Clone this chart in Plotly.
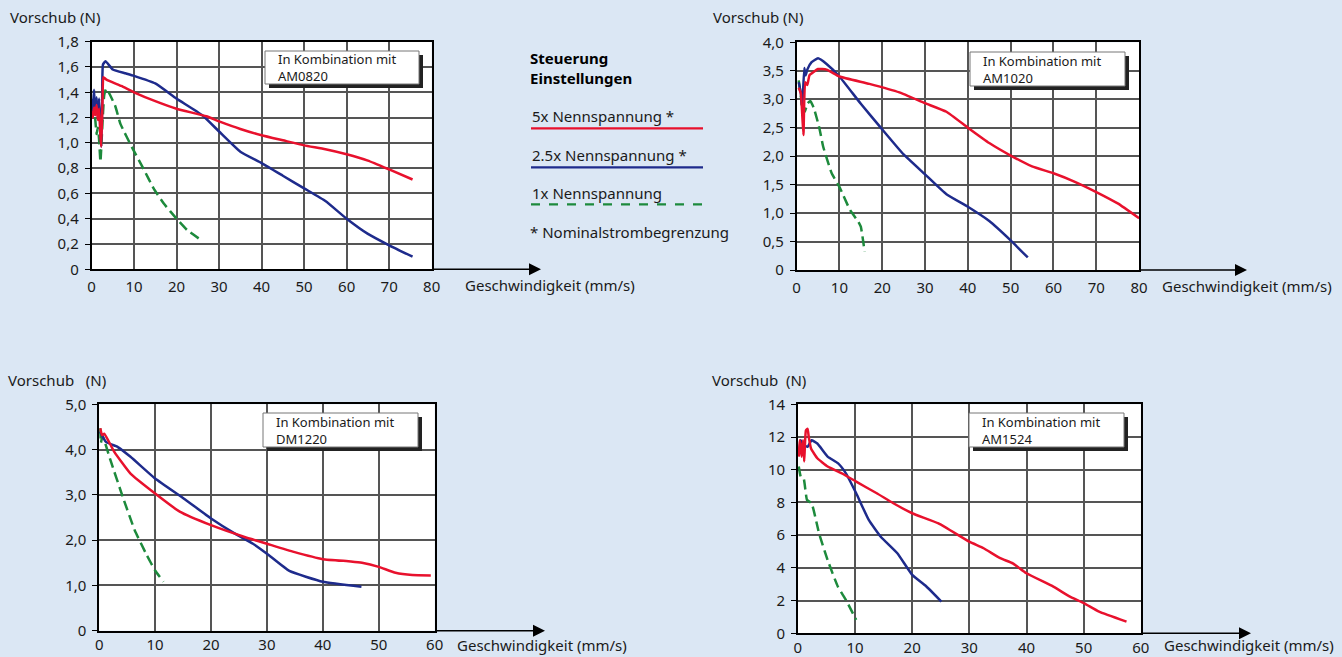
import plotly.graph_objects as go

W, H = 1342, 657

# ---- data ----
# AM0820
am0820_red_x = [0, 0.3, 0.6, 0.9, 1.2, 1.5, 1.8, 2.1, 2.3, 2.6, 2.8, 3.5, 7, 10, 15, 20, 27, 30, 35, 40, 45, 50, 55, 60, 65, 70, 75.5]
am0820_red_y = [1.25, 1.20, 1.28, 1.22, 1.30, 1.18, 1.27, 1.05, 0.97, 1.35, 1.52, 1.50, 1.45, 1.40, 1.33, 1.27, 1.21, 1.17, 1.11, 1.06, 1.02, 0.98, 0.95, 0.91, 0.86, 0.79, 0.71]
am0820_blue_x = [0, 0.3, 0.6, 0.9, 1.2, 1.5, 1.8, 2.1, 2.3, 2.5, 2.7, 3.3, 5, 8, 10, 15, 20, 26, 30, 35, 40, 45, 50, 55, 60, 65, 70, 75.5]
am0820_blue_y = [1.35, 1.25, 1.42, 1.22, 1.36, 1.20, 1.35, 1.10, 0.97, 1.30, 1.62, 1.645, 1.58, 1.55, 1.53, 1.47, 1.35, 1.22, 1.09, 0.93, 0.84, 0.74, 0.64, 0.54, 0.40, 0.28, 0.19, 0.10]
am0820_green_x = [0.6, 0.9, 1.2, 1.5, 1.8, 2.1, 2.5, 3.0, 3.5, 5.6, 6.8, 9.9, 12.3, 14.6, 17, 20, 22.5, 25.4]
am0820_green_y = [1.32, 1.18, 1.07, 1.12, 1.02, 0.85, 1.10, 1.38, 1.43, 1.29, 1.15, 0.94, 0.79, 0.64, 0.52, 0.40, 0.31, 0.24]

# AM1020
am1020_red_x = [0.5, 1.0, 1.3, 1.6, 2.0, 2.5, 3, 4, 5, 7, 10, 17, 24, 30, 35, 40, 45, 50, 55, 60, 65, 70, 75, 80]
am1020_red_y = [3.2, 3.1, 2.75, 2.37, 3.3, 3.25, 3.42, 3.48, 3.53, 3.52, 3.40, 3.27, 3.12, 2.93, 2.78, 2.50, 2.23, 2.01, 1.82, 1.70, 1.55, 1.37, 1.17, 0.91]
am1020_blue_x = [0.5, 1.0, 1.3, 1.8, 2.1, 2.5, 3.5, 5, 7, 10, 15, 20, 25, 30, 35, 40, 45, 50, 54]
am1020_blue_y = [3.30, 3.1, 2.85, 3.55, 3.42, 3.52, 3.65, 3.72, 3.62, 3.40, 2.92, 2.47, 2.03, 1.68, 1.33, 1.11, 0.86, 0.52, 0.22]
am1020_green_x = [0.5, 1.0, 1.5, 2.0, 2.6, 3.2, 4, 5.3, 6.2, 8.2, 10, 12.5, 14.4, 15, 15.9]
am1020_green_y = [3.33, 3.05, 2.75, 2.80, 2.93, 2.97, 2.85, 2.5, 2.17, 1.70, 1.46, 1.05, 0.85, 0.76, 0.32]

# DM1220
dm1220_red_x = [0.2, 0.5, 0.9, 2.7, 5.6, 10, 14.4, 20, 26, 30, 34.8, 40, 45, 47, 50, 53, 56, 59.3]
dm1220_red_y = [4.47, 4.32, 4.35, 3.95, 3.47, 3.03, 2.63, 2.33, 2.07, 1.92, 1.74, 1.58, 1.53, 1.50, 1.41, 1.28, 1.23, 1.22]
dm1220_blue_x = [0.15, 1.2, 2.9, 3.4, 5.6, 10, 15.1, 20, 24.2, 27.5, 30, 34, 40, 46.9]
dm1220_blue_y = [4.40, 4.17, 4.08, 4.05, 3.84, 3.36, 2.92, 2.48, 2.15, 1.92, 1.70, 1.32, 1.08, 0.97]
dm1220_green_x = [0.15, 0.3, 0.6, 2.0, 4.2, 6.35, 8.5, 10, 11.5]
dm1220_green_y = [4.47, 4.15, 4.30, 3.77, 2.96, 2.22, 1.67, 1.33, 1.08]

# AM1524
am1524_red_x = [0.15, 0.36, 0.65, 0.9, 1.1, 1.4, 1.7, 1.9, 2.3, 3.4, 5.2, 7.7, 10.2, 13.8, 16.7, 20, 24.6, 30, 32.5, 35.4, 37.6, 40, 44.7, 47.6, 50.1, 52.7, 57.5]
am1524_red_y = [10.8, 11.8, 10.8, 11.8, 10.5, 12.4, 12.5, 12.0, 11.3, 10.7, 10.2, 9.78, 9.27, 8.56, 7.95, 7.34, 6.72, 5.6, 5.2, 4.59, 4.28, 3.67, 2.85, 2.24, 1.83, 1.32, 0.71]
am1524_blue_x = [0.15, 0.5, 1.0, 1.7, 2.4, 3.4, 5.2, 7, 8.4, 10.2, 12.4, 14.5, 17.4, 20, 22.4, 25.1]
am1524_blue_y = [10.9, 11.8, 11.5, 11.4, 11.8, 11.6, 10.8, 10.4, 9.78, 8.56, 6.93, 5.9, 4.89, 3.57, 2.89, 1.94]
am1524_green_x = [0.15, 0.5, 1.0, 1.6, 2.4, 3.7, 5.2, 7, 8.4, 10.2]
am1524_green_y = [10.2, 9.58, 9.48, 8.15, 7.95, 6.11, 4.48, 2.85, 2.04, 0.82]

x_ticks_80 = [0, 10, 20, 30, 40, 50, 60, 70, 80]
x_ticks_60 = [0, 10, 20, 30, 40, 50, 60]
y_ticks_am0820 = [0, 0.2, 0.4, 0.6, 0.8, 1.0, 1.2, 1.4, 1.6, 1.8]
y_labels_am0820 = ["0", "0,2", "0,4", "0,6", "0,8", "1,0", "1,2", "1,4", "1,6", "1,8"]
y_ticks_am1020 = [0, 0.5, 1.0, 1.5, 2.0, 2.5, 3.0, 3.5, 4.0]
y_labels_am1020 = ["0", "0,5", "1,0", "1,5", "2,0", "2,5", "3,0", "3,5", "4,0"]
y_ticks_dm1220 = [0, 1, 2, 3, 4, 5]
y_labels_dm1220 = ["0", "1,0", "2,0", "3,0", "4,0", "5,0"]
y_ticks_am1524 = [0, 2, 4, 6, 8, 10, 12, 14]
y_labels_am1524 = ["0", "2", "4", "6", "8", "10", "12", "14"]

legend_labels = ["5x Nennspannung *", "2.5x Nennspannung *", "1x Nennspannung"]

RED, BLUE, GREEN = "#e8112d", "#1e2b8c", "#1d8a3c"
FONT = "Noto Sans"
TXT = "#1a1a1a"


def px(x):
    return x / W


def py(y):
    return 1 - y / H


# each panel: plot-area pixel box, axis ranges, ticks, box text, arrow tip, axis title
panels = [
    dict(box=(91.5, 41.7, 431.7, 269.3), xr=80, yr=1.8, xt=x_ticks_80, yt=y_ticks_am0820, yl=y_labels_am0820,
         series=[(am0820_green_x, am0820_green_y), (am0820_blue_x, am0820_blue_y), (am0820_red_x, am0820_red_y)],
         label="AM0820", lbox=(265, 51, 419, 84), tip=541, ytitle="Vorschub (N)", ytx=8, yty=17, xtx=463, xty=285, sto=3),
    dict(box=(796.6, 42.3, 1139.1, 270), xr=80, yr=4.0, xt=x_ticks_80, yt=y_ticks_am1020, yl=y_labels_am1020,
         series=[(am1020_green_x, am1020_green_y), (am1020_blue_x, am1020_blue_y), (am1020_red_x, am1020_red_y)],
         label="AM1020", lbox=(970, 52, 1125, 86), tip=1247, ytitle="Vorschub (N)", ytx=711, yty=17, xtx=1160, xty=286, sto=3),
    dict(box=(99.2, 404.3, 434.7, 630.7), xr=60, yr=5.0, xt=x_ticks_60, yt=y_ticks_dm1220, yl=y_labels_dm1220,
         series=[(dm1220_green_x, dm1220_green_y), (dm1220_blue_x, dm1220_blue_y), (dm1220_red_x, dm1220_red_y)],
         label="DM1220", lbox=(263, 413, 418, 447), tip=545, ytitle="Vorschub\u00a0\u00a0\u00a0(N)", ytx=6, yty=380, xtx=455, xty=645, sto=0),
    dict(box=(797.9, 404.3, 1140.8, 633.3), xr=60, yr=14, xt=x_ticks_60, yt=y_ticks_am1524, yl=y_labels_am1524,
         series=[(am1524_green_x, am1524_green_y), (am1524_blue_x, am1524_blue_y), (am1524_red_x, am1524_red_y)],
         label="AM1524", lbox=(969, 413, 1124, 447), tip=1251, ytitle="Vorschub\u00a0\u00a0(N)", ytx=710, yty=380, xtx=1162, xty=645, sto=0),
]

fig = go.Figure()
shapes, annotations = [], []
styles = [dict(color=GREEN, width=2.5, dash="10px,5px"), dict(color=BLUE, width=2.5), dict(color=RED, width=2.5)]

for i, p in enumerate(panels, start=1):
    sfx = "" if i == 1 else str(i)
    x0, y0, x1, y1 = p["box"]
    for (sx, sy), st in zip(p["series"], styles):
        fig.add_trace(go.Scatter(x=sx, y=sy, mode="lines", line=dict(shape="spline", smoothing=0.4, **st),
                                 xaxis="x" + sfx, yaxis="y" + sfx, showlegend=False, hoverinfo="skip"))
    fig.layout["xaxis" + sfx] = dict(domain=[px(x0), px(x1)], range=[0, p["xr"]], tickvals=p["xt"],
                                     showgrid=True, gridcolor="#555555", gridwidth=1.5, zeroline=False,
                                     showline=True, linecolor="black", linewidth=1.5, mirror=True,
                                     ticks="", ticklabelstandoff=p["sto"], tickfont=dict(family=FONT, size=15, color=TXT),
                                     anchor="y" + sfx, fixedrange=True, automargin=False)
    fig.layout["yaxis" + sfx] = dict(domain=[py(y1), py(y0)], range=[0, p["yr"]], tickvals=p["yt"], ticktext=p["yl"],
                                     showgrid=True, gridcolor="#555555", gridwidth=1.5, zeroline=False,
                                     showline=True, linecolor="black", linewidth=1.5, mirror=True,
                                     ticks="outside", ticklen=5, tickcolor="black", tickwidth=1.2,
                                     ticklabelstandoff=3, tickfont=dict(family=FONT, size=15, color=TXT),
                                     anchor="x" + sfx, fixedrange=True, automargin=False)
    # arrow extending the x axis
    annotations.append(dict(x=px(p["tip"]), y=py(y1), xref="paper", yref="paper", text="",
                            showarrow=True, ax=-(p["tip"] - x1), ay=0, axref="pixel", ayref="pixel",
                            arrowhead=2, arrowsize=1.6, arrowwidth=1.5, arrowcolor="black", standoff=0))
    annotations.append(dict(x=px(p["xtx"]), y=py(p["xty"]), xref="paper", yref="paper", text="Geschwindigkeit (mm/s)",
                            showarrow=False, xanchor="left", yanchor="middle", font=dict(family=FONT, size=15, color=TXT)))
    annotations.append(dict(x=px(p["ytx"]), y=py(p["yty"]), xref="paper", yref="paper", text=p["ytitle"],
                            showarrow=False, xanchor="left", yanchor="middle", font=dict(family=FONT, size=15, color=TXT)))
    # combination box with shadow
    bx0, by0, bx1, by1 = p["lbox"]
    shapes.append(dict(type="rect", xref="paper", yref="paper", x0=px(bx0 + 4), x1=px(bx1 + 4), y0=py(by1 + 4), y1=py(by0 + 4),
                       fillcolor="#222222", line=dict(width=0)))
    shapes.append(dict(type="rect", xref="paper", yref="paper", x0=px(bx0), x1=px(bx1), y0=py(by1), y1=py(by0),
                       fillcolor="white", line=dict(color="#777777", width=1)))
    annotations.append(dict(x=px(bx0 + 11), y=py((by0 + by1) / 2), xref="paper", yref="paper",
                            text="In Kombination mit<br>" + p["label"], showarrow=False, xanchor="left", yanchor="middle",
                            align="left", font=dict(family=FONT, size=13, color=TXT)))

# legend block in the middle
annotations.append(dict(x=px(528), y=py(68), xref="paper", yref="paper", text="<b>Steuerung<br>Einstellungen</b>",
                        showarrow=False, xanchor="left", yanchor="middle", align="left",
                        font=dict(family=FONT, size=15, color="black")))
leg_rows = [(legend_labels[0], 116, 128.3, RED, None), (legend_labels[1], 155, 167.3, BLUE, None),
            (legend_labels[2], 193.3, 204.3, GREEN, "dash")]
for text, ty, ly, col, dash in leg_rows:
    annotations.append(dict(x=px(530), y=py(ty), xref="paper", yref="paper", text=text, showarrow=False,
                            xanchor="left", yanchor="middle", font=dict(family=FONT, size=15, color=TXT)))
    shapes.append(dict(type="line", xref="paper", yref="paper", x0=px(531), x1=px(703), y0=py(ly), y1=py(ly),
                       line=dict(color=col, width=2.2, dash=dash or "solid")))
annotations.append(dict(x=px(528), y=py(231.7), xref="paper", yref="paper", text="* Nominalstrombegrenzung",
                        showarrow=False, xanchor="left", yanchor="middle", font=dict(family=FONT, size=15, color=TXT)))

fig.update_layout(width=W, height=H, autosize=False, margin=dict(l=0, r=0, t=0, b=0, pad=0),
                  paper_bgcolor="#dbe7f4", plot_bgcolor="white", shapes=shapes, annotations=annotations,
                  showlegend=False)

# drop the page's default body margin so the figure sits at the window origin
fig.write_html("out.html", config={"displayModeBar": False},
               post_script="document.body.style.margin='0';document.body.style.overflow='hidden';")
